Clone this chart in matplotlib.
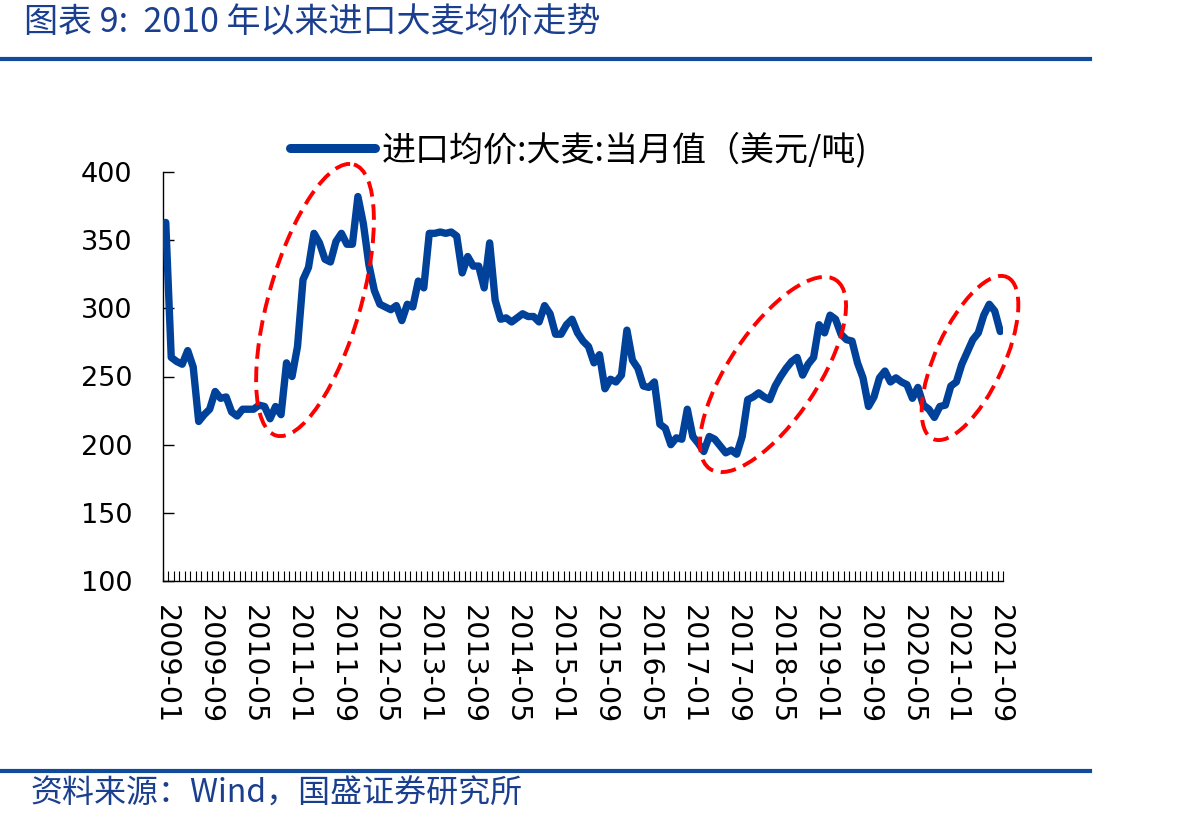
import numpy as np
import matplotlib
matplotlib.use("Agg")
import matplotlib.pyplot as plt
from matplotlib.patches import Ellipse
from matplotlib.lines import Line2D
from matplotlib.font_manager import FontProperties

# ---------------- data ----------------
start_year, start_month = 2009, 1
values = [
    363, 264, 261, 259, 269, 257, 217, 222, 226, 239, 234, 235,   # 2009
    224, 221, 226, 226, 226, 229, 228, 219, 228, 222, 260, 250,   # 2010
    272, 321, 330, 355, 348, 336, 334, 349, 355, 347, 347, 382,   # 2011
    362, 332, 313, 303, 301, 299, 302, 291, 303, 301, 320, 315,   # 2012
    355, 355, 356, 355, 356, 353, 326, 338, 331, 331, 315, 348,   # 2013
    306, 292, 293, 290, 293, 296, 294, 294, 290, 302, 296, 281,   # 2014
    281, 288, 292, 282, 276, 272, 260, 266, 241, 248, 246, 251,   # 2015
    284, 262, 256, 243, 242, 246, 215, 212, 200, 205, 204, 226,   # 2016
    206, 201, 195, 206, 204, 199, 194, 196, 193, 206, 233, 235,   # 2017
    238, 235, 233, 243, 250, 256, 261, 264, 251, 259, 264, 288,   # 2018
    282, 295, 292, 281, 277, 276, 260, 249, 228, 235, 249, 254,   # 2019
    246, 249, 246, 244, 234, 242, 229, 226, 220, 228, 229, 243,   # 2020
    246, 259, 268, 277, 282, 295, 303, 298, 283,                  # 2021
]
tick_labels = ["2009-01", "2009-09", "2010-05", "2011-01", "2011-09", "2012-05",
               "2013-01", "2013-09", "2014-05", "2015-01", "2015-09", "2016-05",
               "2017-01", "2017-09", "2018-05", "2019-01", "2019-09", "2020-05",
               "2021-01", "2021-09"]
yticks = [100, 150, 200, 250, 300, 350, 400]
series_name = "进口均价:大麦:当月值（美元/吨)"
title = "图表 9:  2010 年以来进口大麦均价走势"
source = "资料来源：Wind，国盛证券研究所"

# ---------------- figure ----------------
W, H = 1192, 824
fig = plt.figure(figsize=(W / 100, H / 100), dpi=100)
fig.patch.set_facecolor("white")

blue_line = "#00419A"
blue_text = "#1B3F8F"
cjk = ["Noto Sans CJK SC", "DejaVu Sans"]

ax = fig.add_axes([163 / W, (H - 581) / H, 840 / W, 409 / H])
n = len(values)
x = np.arange(n)
ax.plot(x, values, color=blue_line, lw=5.3, solid_joinstyle="round",
        solid_capstyle="round", zorder=3, label=series_name)
ax.set_xlim(-0.5, n - 0.5)
ax.set_ylim(100, 400)

for s in ["top", "right"]:
    ax.spines[s].set_visible(False)
for s in ["left", "bottom"]:
    ax.spines[s].set_linewidth(1.0)
    ax.spines[s].set_color("black")

ax.set_yticks(yticks)
ax.set_yticklabels([str(v) for v in yticks])
ax.tick_params(axis="y", direction="in", length=8, width=1, labelsize=19.5,
               pad=22, colors="black")

label_pos = [tick_labels.index(l) * 8 for l in tick_labels]
ax.set_xticks(label_pos)
ax.set_xticklabels(tick_labels, rotation=-90, fontsize=20.5)
ax.tick_params(axis="x", which="major", length=0, pad=17)
ax.set_xticks(np.arange(-0.5, n, 1), minor=True)
ax.tick_params(axis="x", which="minor", direction="in", length=7, width=0.8)
for lab in ax.get_xticklabels():
    lab.set_va("top")
    lab.set_ha("center")

leg = ax.legend(loc="center left", bbox_to_anchor=(290 / W, 1 - 150 / H),
                bbox_transform=fig.transFigure, frameon=False,
                prop=FontProperties(family=cjk, size=24.5),
                handlelength=2.5, handletextpad=0.2, borderpad=0,
                borderaxespad=0)
for h in leg.get_lines():
    h.set_linewidth(6.5)
    h.set_solid_capstyle("round")

# ---------------- overlay (ellipses, rules, texts) ----------------
ov = fig.add_axes([0, 0, 1, 1], zorder=5)
ov.set_xlim(0, W)
ov.set_ylim(H, 0)
ov.axis("off")
ov.patch.set_alpha(0)

for (cx, cy, w, h, ang) in [(315, 300, 92, 282, 16),
                            (773, 374.5, 89, 227, 33.7),
                            (970, 358, 68, 178, 24.7)]:
    ov.add_patch(Ellipse((cx, cy), w, h, angle=ang, fill=False,
                         edgecolor="#FF0000", lw=2.8,
                         linestyle=(0, (4, 2))))

ov.add_line(Line2D([0, 1090], [59, 59], color="#0F4A9B", lw=3))
ov.add_line(Line2D([0, 1090], [771, 771], color="#0F4A9B", lw=3))

ov.text(24, 23, title, fontsize=24.5, color=blue_text, style="italic",
        family=cjk, va="center", ha="left")
ov.text(30, 794, source, fontsize=23, color=blue_text, style="italic",
        family=cjk, va="center", ha="left")

fig.savefig("out.png", dpi=100, facecolor="white")
